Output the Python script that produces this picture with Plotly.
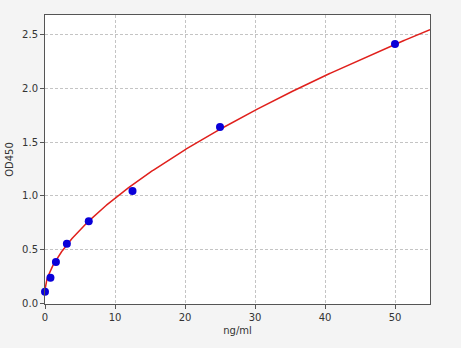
import numpy as np
import plotly.graph_objects as go

conc = [0, 0.78, 1.56, 3.125, 6.25, 12.5, 25, 50]
od = [0.11, 0.24, 0.385, 0.555, 0.765, 1.045, 1.64, 2.41]

# fitted curve parameters (y = a + k * x^b)
fit_a, fit_k, fit_b = 0.13, 0.207, 0.613
xs = np.linspace(0, 55, 400)
ys = fit_a + fit_k * xs ** fit_b

fig = go.Figure()
fig.add_trace(go.Scatter(x=xs, y=ys, mode="lines",
                         line=dict(color="#e0201c", width=1.5), hoverinfo="skip"))
fig.add_trace(go.Scatter(x=conc, y=od, mode="markers",
                         marker=dict(color="#0a00d8", size=8), cliponaxis=False))

axis_common = dict(showgrid=True, gridcolor="#c4c4c4", griddash="3px,2px", gridwidth=1,
                   showline=True, linecolor="#555555", linewidth=1, mirror=True,
                   ticks="outside", ticklen=4, tickcolor="#555555",
                   tickfont=dict(family="DejaVu Sans", size=10, color="#333333"),
                   zeroline=False, automargin=False)

fig.update_layout(
    width=461, height=348,
    margin=dict(l=45, r=31, t=15, b=44),
    paper_bgcolor="#f4f4f4", plot_bgcolor="#ffffff",
    showlegend=False,
    xaxis=dict(range=[0, 55], tickvals=[0, 10, 20, 30, 40, 50],
               title=dict(text="ng/ml", font=dict(family="DejaVu Sans", size=10, color="#333333"), standoff=4),
               **axis_common),
    yaxis=dict(range=[-0.004, 2.68], tickvals=[0, 0.5, 1.0, 1.5, 2.0, 2.5], tickformat=".1f",
               title=dict(text="OD450", font=dict(family="DejaVu Sans", size=10, color="#333333"), standoff=6),
               **axis_common),
)

fig.write_html("out.html")
